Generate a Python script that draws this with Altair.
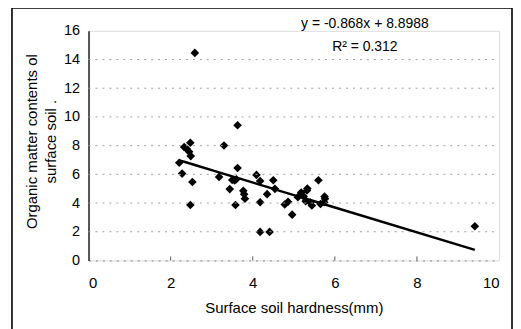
import altair as alt
import pandas as pd

# Surface soil hardness (mm) and organic matter contents of surface soil
hardness = [2.59, 3.63, 2.48, 3.30, 2.33, 2.39, 2.45, 2.49, 2.21, 2.28, 2.53, 2.48,
            3.18, 3.63, 3.50, 3.56, 3.60, 3.44, 3.58, 3.77, 3.79, 3.81, 4.09, 4.18,
            4.18, 4.35, 4.50, 4.54, 4.18, 4.41, 4.78, 4.86, 4.96, 5.10, 5.18, 5.24,
            5.32, 5.33, 5.29, 5.40, 5.44, 5.60, 5.65, 5.74, 5.76, 5.75, 9.41]
organic = [14.46, 9.42, 8.20, 8.01, 7.90, 7.78, 7.57, 7.27, 6.81, 6.05, 5.47, 3.86,
           5.82, 6.44, 5.61, 5.57, 5.66, 4.97, 3.86, 4.85, 4.62, 4.30, 5.96, 5.54,
           4.06, 4.62, 5.59, 4.99, 1.99, 1.99, 3.90, 4.09, 3.19, 4.41, 4.73, 4.46,
           4.87, 5.01, 4.13, 4.04, 3.83, 5.59, 3.93, 4.06, 4.30, 4.46, 2.38]

slope = -0.868
intercept = 8.8988
equation_text = "y = -0.868x + 8.8988"
r2_text = "R\u00b2 = 0.312"
x_ticks = [0, 2, 4, 6, 8, 10]
y_ticks = [0, 2, 4, 6, 8, 10, 12, 14, 16]
grid_y = [2, 4, 6, 8, 10, 12, 14]
inner_ticks_x = [2, 4, 6, 8]

df = pd.DataFrame({"x": hardness, "y": organic})
grid_df = pd.DataFrame({"g": grid_y})
tick_df = pd.DataFrame({"t": inner_ticks_x})
one_df = pd.DataFrame({"k": [0]})

FONT = "Liberation Sans"
W, H = 413, 231

xscale = alt.Scale(domain=[0, 10], nice=False)
yscale = alt.Scale(domain=[0, 16], nice=False)

xaxis = alt.Axis(values=x_ticks, title="Surface soil hardness(mm)", grid=False, ticks=False,
                 labelPadding=15, labelFontSize=15, labelColor="black", labelOverlap=False,
                 domainColor="#888", domainDash=[2, 5], domainWidth=1,
                 titleFontSize=15, titleFontWeight="normal", titleColor="black",
                 titlePadding=10, labelFont=FONT, titleFont=FONT)
yaxis = alt.Axis(values=y_ticks, title=["Organic matter contents ol", "surface soil ."],
                 grid=False, ticks=False, labelPadding=9, labelFontSize=14.5, labelColor="black",
                 labelOverlap=False,
                 domainColor="#222", domainWidth=1.5,
                 titleFontSize=15, titleFontWeight="normal", titleColor="black",
                 titleLineHeight=19, titlePadding=5, titleY=111, labelFont=FONT, titleFont=FONT)

grid = alt.Chart(grid_df).mark_rule(color="#a0a0a0", strokeWidth=1, strokeDash=[2, 5]).encode(
    y=alt.Y("g:Q", scale=yscale, axis=yaxis),
    x=alt.value(0), x2=alt.value(W),
)

inner_ticks = alt.Chart(tick_df).mark_rule(color="#555", strokeWidth=1).encode(
    x=alt.X("t:Q", scale=xscale, axis=xaxis),
    y=alt.value(H), y2=alt.value(H - 4),
)

points = alt.Chart(df).mark_point(shape="diamond", filled=True, color="black", size=75, opacity=1).encode(
    x=alt.X("x:Q", scale=xscale, axis=xaxis),
    y=alt.Y("y:Q", scale=yscale, axis=yaxis),
)

line = alt.Chart(df).transform_calculate(
    fit=f"{slope} * datum.x + {intercept}"
).mark_line(color="black", strokeWidth=2.4).encode(
    x=alt.X("x:Q", scale=xscale, axis=xaxis),
    y=alt.Y("fit:Q", scale=yscale, axis=yaxis),
    order="x:Q",
)

eq1 = alt.Chart(one_df).mark_text(font=FONT, fontSize=14, color="black", align="center",
                                  baseline="middle", text=equation_text).encode(
    x=alt.value(278), y=alt.value(-7),
)
eq2 = alt.Chart(one_df).mark_text(font=FONT, fontSize=14, color="black", align="center",
                                  baseline="middle", text=r2_text).encode(
    x=alt.value(278), y=alt.value(16),
)

frame = alt.Chart(one_df).mark_rect(fill=None, stroke="black", strokeWidth=1.6, clip=False).encode(
    x=alt.value(-77), x2=alt.value(426), y=alt.value(-23), y2=alt.value(320),
)

chart = alt.layer(points, grid, inner_ticks, line, eq1, eq2, frame).properties(
    width=W, height=H,
    autosize=alt.AutoSizeParams(type="none"),
    padding={"left": 81, "top": 22, "right": 14, "bottom": 68},
).configure_view(strokeWidth=0).configure(background="white")

chart.save("out.html", embed_options={"renderer": "svg", "actions": False})
